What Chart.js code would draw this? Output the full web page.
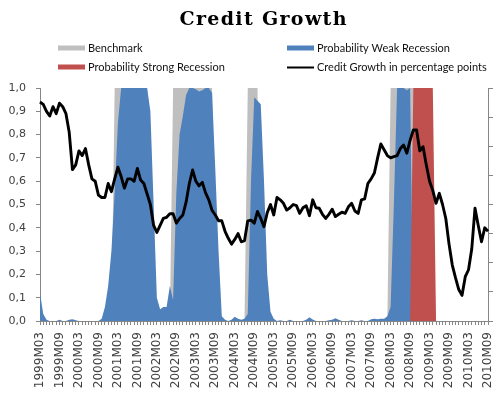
<!DOCTYPE html>
<html>
<head>
<meta charset="utf-8">
<script src="https://cdn.jsdelivr.net/npm/chart.js@4.4.1/dist/chart.umd.min.js"></script>
<style>
  html, body { margin: 0; padding: 0; background: #ffffff; }
  #wrap { width: 494px; height: 405px; position: relative; }
</style>
</head>
<body>
<div id="wrap"><canvas id="c" width="494" height="405"></canvas></div>
<script>
// ---- Data (monthly, 1999M03 .. 2010M09) ----
const startYear = 1999, startMonth = 3, nMonths = 139;
const categories = [];
for (let i = 0; i < nMonths; i++) {
  const m = startMonth - 1 + i;
  const y = startYear + Math.floor(m / 12);
  const mm = (m % 12) + 1;
  categories.push(y + 'M' + (mm < 10 ? '0' + mm : mm));
}

const seriesNames = ['Benchmark', 'Probability Weak Recession', 'Probability Strong Recession', 'Credit Growth in percentage points'];

const benchmark = [
  0,0,0,0,0,0,0,0,0,0,                 // 1999
  0,0,0,0,0,0,0,0,0,0,0,0,             // 2000
  0,1,1,1,1,1,1,1,1,1,1,1,             // 2001
  0,0,0,0,0,0,0,1,1,1,1,1,             // 2002
  1,1,1,1,1,1,1,1,0,0,0,0,             // 2003
  0,0,0,0,0,0,1,1,1,1,0,0,             // 2004
  0,0,0,0,0,0,0,0,0,0,0,0,             // 2005
  0,0,0,0,0,0,0,0,0,0,0,0,             // 2006
  0,0,0,0,0,0,0,0,0,0,0,0,             // 2007
  0,0,1,1,1,1,1,1,1,1,1,1,             // 2008
  0,0,0,0,0,0,0,0,0,0,0,0,             // 2009
  0,0,0,0,0,0,0,0,0                    // 2010
];

const weakRecession = [
  0.12,0.03,0.005,0,0,0,0.005,0,0,0.005,                       // 1999
  0.008,0.003,0,0,0,0,0,0,0,0.01,0.06,0.15,                    // 2000
  0.3,0.55,0.85,1,1,1,1,1,1,1,1,1,                             // 2001
  0.9,0.5,0.1,0.05,0.06,0.06,0.15,0.09,0.55,0.8,0.88,0.97,     // 2002
  1,1,0.995,0.985,0.99,1,1,0.98,0.65,0.3,0.02,0.005,           // 2003
  0,0.005,0.018,0.01,0.005,0.01,0.03,0.6,0.96,0.945,0.93,0.6,  // 2004
  0.2,0.04,0.01,0,0.003,0,0,0.005,0,0,0,0,                     // 2005
  0.005,0.016,0.006,0,0,0,0,0.003,0.005,0.012,0.005,0,         // 2006
  0,0,0.003,0,0,0.003,0,0,0.008,0.01,0.008,0.01,               // 2007
  0.01,0.02,0.06,0.5,1,1,1,0.99,1,0,0,0,                       // 2008
  0,0,0,0,0,0,0,0,0,0,0,0,                                     // 2009
  0,0,0,0,0,0,0,0,0                                            // 2010
];

const strongRecession = [
  0,0,0,0,0,0,0,0,0,0,                 // 1999
  0,0,0,0,0,0,0,0,0,0,0,0,             // 2000
  0,0,0,0,0,0,0,0,0,0,0,0,             // 2001
  0,0,0,0,0,0,0,0,0,0,0,0,             // 2002
  0,0,0,0,0,0,0,0,0,0,0,0,             // 2003
  0,0,0,0,0,0,0,0,0,0,0,0,             // 2004
  0,0,0,0,0,0,0,0,0,0,0,0,             // 2005
  0,0,0,0,0,0,0,0,0,0,0,0,             // 2006
  0,0,0,0,0,0,0,0,0,0,0,0,             // 2007
  0,0,0,0,0,0,0,0,0,1,1,1,             // 2008
  1,1,1,1,0,0,0,0,0,0,0,0,             // 2009
  0,0,0,0,0,0,0,0,0                    // 2010
];

const creditGrowth = [
  0.94,0.93,0.90,0.88,0.92,0.89,0.935,0.92,0.89,0.81,                   // 1999
  0.65,0.67,0.73,0.71,0.74,0.67,0.61,0.60,0.54,0.53,0.53,0.59,          // 2000
  0.555,0.61,0.66,0.62,0.57,0.61,0.61,0.60,0.655,0.605,0.59,0.545,      // 2001
  0.50,0.41,0.38,0.41,0.44,0.445,0.46,0.46,0.42,0.44,0.455,0.51,        // 2002
  0.59,0.648,0.60,0.58,0.595,0.55,0.52,0.475,0.455,0.43,0.43,0.385,     // 2003
  0.355,0.33,0.35,0.375,0.34,0.345,0.43,0.433,0.42,0.47,0.44,0.405,     // 2004
  0.465,0.50,0.455,0.53,0.52,0.505,0.476,0.486,0.50,0.495,0.462,0.486,  // 2005
  0.495,0.452,0.52,0.486,0.484,0.458,0.44,0.458,0.48,0.448,0.458,0.467, // 2006
  0.462,0.49,0.505,0.472,0.462,0.52,0.524,0.59,0.61,0.635,0.70,0.76,    // 2007
  0.735,0.71,0.70,0.705,0.71,0.74,0.755,0.72,0.775,0.82,0.82,0.73,      // 2008
  0.748,0.67,0.60,0.56,0.505,0.548,0.50,0.44,0.33,0.24,0.185,0.135,     // 2009
  0.11,0.19,0.22,0.31,0.484,0.41,0.34,0.40,0.385                        // 2010
];

const leftTicks = [0,0.1,0.2,0.3,0.4,0.5,0.6,0.7,0.8,0.9,1.0];

// ---- Styles ----
const colors = { bench: '#BFBFBF', weak: '#4F81BD', strong: '#C0504D', line: '#000000' };
const axisColor = '#868686';
const tickColor = '#404040';

const overlay = {
  id: 'overlay',
  afterDraw(chart) {
    const ctx = chart.ctx;
    ctx.save();
    // Title
    ctx.fillStyle = '#000';
    ctx.font = 'bold 19px "DejaVu Serif"';
    ctx.textBaseline = 'middle';
    ctx.textAlign = 'left';
    const title = 'Credit Growth';
    let w = ctx.measureText(title).width;
    const target = 167;
    if ('letterSpacing' in ctx) {
      ctx.letterSpacing = ((target - w) / (title.length - 1)) + 'px';
      w = target;
    }
    ctx.fillText(title, 263 - target / 2, 20);
    if ('letterSpacing' in ctx) ctx.letterSpacing = '0px';

    // Legend
    const items = [
      { text: seriesNames[0], color: colors.bench, type: 'box', x: 58, y: 48 },
      { text: seriesNames[1], color: colors.weak, type: 'box', x: 287, y: 48 },
      { text: seriesNames[2], color: colors.strong, type: 'box', x: 58, y: 67 },
      { text: seriesNames[3], color: colors.line, type: 'line', x: 287, y: 67 }
    ];
    ctx.font = '11px Lato';
    items.forEach(it => {
      if (it.type === 'box') {
        ctx.fillStyle = it.color;
        ctx.fillRect(it.x, it.y - 2.5, 27, 5);
      } else {
        ctx.strokeStyle = it.color;
        ctx.lineWidth = 2;
        ctx.beginPath();
        ctx.moveTo(it.x, it.y + 0.5);
        ctx.lineTo(it.x + 27, it.y + 0.5);
        ctx.stroke();
      }
      ctx.fillStyle = '#111111';
      ctx.fillText(it.text, it.x + 30, it.y);
    });
    ctx.restore();
  }
};

const areaDs = (label, data, color, order) => ({
  label, data, order,
  backgroundColor: color,
  borderColor: color,
  borderWidth: 0,
  pointRadius: 0,
  fill: 'origin',
  tension: 0,
  yAxisID: 'y'
});

new Chart(document.getElementById('c'), {
  type: 'line',
  data: {
    labels: categories,
    datasets: [
      { label: seriesNames[3], data: creditGrowth, order: 0, borderColor: colors.line,
        backgroundColor: colors.line, borderWidth: 2.9, pointRadius: 0, fill: false,
        tension: 0, yAxisID: 'y', borderJoinStyle: 'round' },
      areaDs(seriesNames[2], strongRecession, colors.strong, 1),
      areaDs(seriesNames[1], weakRecession, colors.weak, 2),
      areaDs(seriesNames[0], benchmark, colors.bench, 3)
    ]
  },
  options: {
    responsive: false,
    animation: false,
    events: [],
    layout: { padding: { top: 88, left: 0, right: 0, bottom: 0 } },
    plugins: { legend: { display: false }, title: { display: false }, tooltip: { enabled: false } },
    scales: {
      x: {
        type: 'category',
        offset: false,
        border: { color: axisColor, width: 1 },
        grid: { drawOnChartArea: false, drawTicks: true, tickLength: 4, color: axisColor },
        ticks: {
          autoSkip: false, maxRotation: 90, minRotation: 90, padding: 7,
          color: tickColor, font: { family: '"DejaVu Sans"', size: 12 },
          callback: function (v, i) { return i % 6 === 0 ? categories[i] : ''; }
        },
        afterFit: s => { s.height = 84; s.paddingLeft = 0; s.paddingRight = 0; }
      },
      y: {
        position: 'left',
        min: 0, max: 1,
        afterBuildTicks: s => { s.ticks = leftTicks.map(v => ({ value: v })); },
        border: { color: axisColor, width: 1 },
        grid: { drawOnChartArea: false, drawTicks: true, tickLength: 4, color: axisColor },
        ticks: {
          padding: 10, color: tickColor, font: { family: '"DejaVu Sans"', size: 11 },
          callback: v => v.toFixed(1).replace('.', ',')
        },
        afterFit: s => { s.width = 40; }
      },
      y2: {
        position: 'right',
        min: 0, max: 1,
        afterBuildTicks: s => { s.ticks = [0,0.125,0.25,0.375,0.5,0.625,0.75,0.875,1].map(v => ({ value: v })); },
        border: { color: axisColor, width: 1 },
        grid: { drawOnChartArea: false, drawTicks: true, tickLength: 5, color: axisColor },
        ticks: { callback: () => '' , padding: 0},
        afterFit: s => { s.width = 6; }
      }
    }
  },
  plugins: [overlay]
});
</script>
</body>
</html>
